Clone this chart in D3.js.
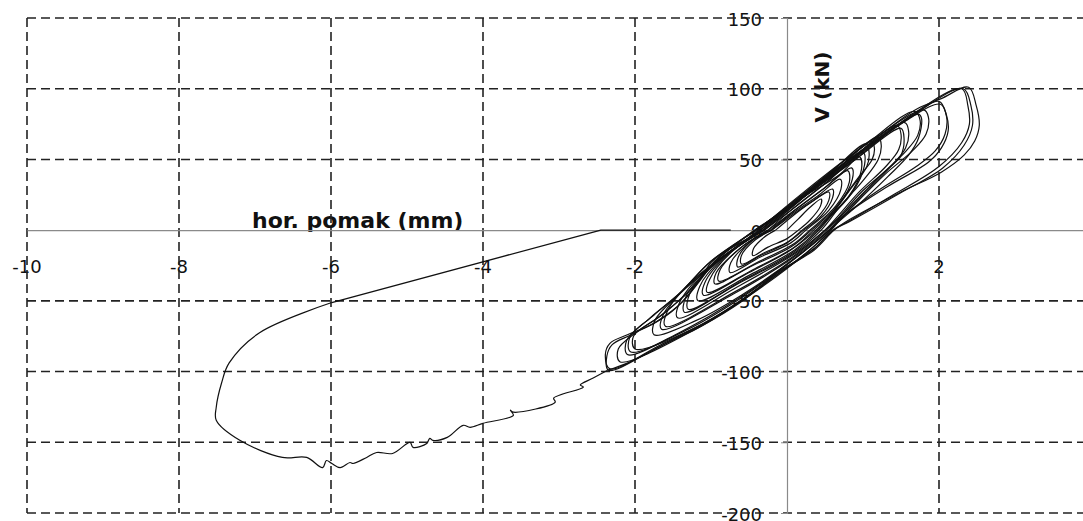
<!DOCTYPE html>
<html>
<head>
<meta charset="utf-8">
<script src="https://cdn.jsdelivr.net/npm/d3@7/dist/d3.min.js"></script>
<style>
  html, body { margin: 0; padding: 0; background: #fff; }
  svg { display: block; }
</style>
</head>
<body>
<svg id="chart" width="1083" height="521"></svg>
<script>
// ---- tick labels ----
const xTicks = [-10, -8, -6, -4, -2, 2, 4];
const xGrid = [-10, -8, -6, -4, -2, 2, 4];
const yTicks = [150, 100, 50, 0, -50, -100, -150, -200];
const yGrid = [150, 100, 50, -50, -100, -150, -200];
const xTitle = "hor. pomak (mm)";
const yTitle = "V (kN)";

// ---- cyclic loops: [displacement mm, force kN] ----
const cycle01 = [[0,0],[0.15,8],[0.3,16],[0.45,22],[0.44,17],[0.3,7],[0.15,0],[0,-6],[-0.25,-12],[-0.45,-18],[-0.44,-13],[-0.3,-5],[-0.15,0]];
const cycle02 = [[-0.15,0],[0.05,9],[0.3,19],[0.55,27],[0.55,21],[0.4,9],[0.2,0],[0.02,-8],[-0.3,-16],[-0.6,-24],[-0.6,-18],[-0.42,-7],[-0.2,0]];
const cycle02b = [[-0.2,0],[0.1,12],[0.35,21],[0.6,29],[0.6,23],[0.45,10],[0.22,0],[0,-9],[-0.35,-18],[-0.65,-26],[-0.64,-19],[-0.45,-7],[-0.2,0]];
const cycle03 = [[-0.2,0],[0.05,11],[0.4,24],[0.7,36],[0.71,29],[0.55,14],[0.25,0],[0.05,-9],[-0.35,-19],[-0.75,-30],[-0.74,-23],[-0.5,-9],[-0.22,0]];
const cycle04 = [[-0.22,0],[0.05,12],[0.45,28],[0.8,42],[0.82,34],[0.64,17],[0.3,0],[0.08,-10],[-0.4,-23],[-0.9,-36],[-0.88,-28],[-0.6,-12],[-0.25,0]];
const cycle04b = [[-0.25,0],[0.1,14],[0.5,30],[0.85,44],[0.86,36],[0.68,18],[0.32,0],[0.05,-12],[-0.45,-25],[-0.95,-38],[-0.93,-30],[-0.62,-13],[-0.26,0]];
const cycle05 = [[-0.25,0],[0.05,14],[0.5,33],[0.95,52],[0.98,43],[0.8,23],[0.35,0],[0.1,-12],[-0.45,-28],[-1.05,-44],[-1.02,-35],[-0.72,-15],[-0.3,0]];
const cycle05b = [[-0.3,0],[0.1,16],[0.55,35],[1.0,55],[1.02,46],[0.85,26],[0.38,0],[0.05,-14],[-0.5,-30],[-1.1,-46],[-1.08,-37],[-0.75,-16],[-0.3,0]];
const cycle06 = [[-0.3,0],[0.1,18],[0.6,40],[1.11,63],[1.15,58],[1.12,50],[0.95,38],[0.7,20],[0.4,0],[0.1,-14],[-0.5,-32],[-1.17,-50],[-1.15,-40],[-0.85,-20],[-0.3,0]];
const cycle07 = [[-0.3,0],[0.15,20],[0.6,42],[1.04,61],[1.08,55],[1.05,45],[0.85,30],[0.42,0],[0.1,-15],[-0.6,-36],[-1.3,-56],[-1.28,-45],[-0.95,-24],[-0.32,0]];
const cycle07b = [[-0.32,0],[0.15,21],[0.7,45],[1.2,66],[1.24,60],[1.2,50],[1.0,35],[0.7,17],[0.45,0],[0.1,-16],[-0.65,-38],[-1.35,-58],[-1.33,-47],[-1.0,-26],[-0.33,0]];
const cycle08 = [[-0.32,0],[0.2,23],[0.9,50],[1.5,72],[1.54,65],[1.5,53],[1.33,43],[1.07,29],[0.71,10],[0.5,0],[0.15,-15],[-0.65,-40],[-1.44,-62],[-1.42,-52],[-1.1,-30],[-0.35,0]];
const cycle09 = [[-0.35,0],[0.2,24],[0.9,53],[1.45,74],[1.5,68],[1.47,57],[1.3,45],[0.95,27],[0.5,0],[0.1,-18],[-0.7,-44],[-1.6,-68],[-1.58,-58],[-1.25,-36],[-0.35,0]];
const cycle09b = [[-0.35,0],[0.2,24],[0.95,55],[1.55,76],[1.6,70],[1.56,58],[1.38,46],[1.0,28],[0.52,0],[0.12,-18],[-0.7,-45],[-1.65,-70],[-1.63,-60],[-1.28,-38],[-0.36,0]];
const cycle10 = [[-0.35,0],[0.2,25],[1.0,57],[1.73,82],[1.77,79],[1.73,65],[1.6,53],[1.33,38],[0.98,20],[0.55,0],[0.15,-18],[-0.6,-46],[-1.2,-64],[-1.75,-74],[-1.74,-64],[-1.35,-42],[-0.38,0]];
const cycle11 = [[-0.38,0],[0.2,26],[1.02,60],[1.68,84],[1.75,78],[1.72,67],[1.55,55],[1.2,37],[0.8,15],[0.55,0],[0.2,-16],[-0.55,-46],[-1.3,-70],[-2.06,-86],[-2.07,-76],[-1.75,-60],[-1.4,-44],[-1.0,-22],[-0.4,0]];
const cycle11b = [[-0.4,0],[0.2,25],[1.0,59],[1.8,85],[1.86,80],[1.83,68],[1.65,56],[1.3,40],[0.85,16],[0.56,0],[0.2,-16],[-0.6,-47],[-1.4,-72],[-2.1,-88],[-2.11,-78],[-1.8,-62],[-1.42,-45],[-1.0,-22],[-0.41,0]];
const cycle12 = [[-0.4,0],[0.18,22],[0.8,48],[1.5,75],[2.0,91],[2.1,81],[2.12,70],[2.03,58],[1.86,48],[1.33,31],[0.75,10],[0.58,0],[0.3,-14],[-0.3,-38],[-1.1,-66],[-2.0,-84],[-2.02,-75],[-1.7,-62],[-1.3,-44],[-0.95,-22],[-0.42,0]];
const cycle12b = [[-0.42,0],[0.18,22],[0.85,50],[1.55,77],[2.02,89],[2.1,80],[2.08,68],[1.95,56],[1.7,45],[1.2,28],[0.7,8],[0.57,0],[0.3,-14],[-0.3,-39],[-1.2,-70],[-2.2,-93],[-2.22,-84],[-2.0,-73],[-1.6,-58],[-1.2,-38],[-0.9,-20],[-0.43,0]];
const cycle13 = [[-0.42,0],[0.18,22],[0.9,50],[1.6,80],[2.3,100],[2.38,88],[2.4,75],[2.3,62],[2.0,45],[1.4,25],[0.8,6],[0.6,0],[0.36,-13],[-0.12,-30],[-0.61,-50],[-1.13,-67],[-1.66,-81],[-2.33,-98],[-2.39,-88],[-2.33,-80],[-2.1,-74],[-1.75,-66],[-1.44,-54],[-1.17,-37],[-1.0,-23],[-0.78,-14],[-0.44,-4],[-0.35,0]];
const cycle13b = [[-0.43,0],[0.18,22],[0.9,51],[1.65,81],[2.32,100],[2.42,88],[2.44,74],[2.33,60],[2.05,44],[1.45,25],[0.82,6],[0.61,0],[0.36,-13],[-0.12,-31],[-0.6,-50],[-1.15,-68],[-1.7,-83],[-2.35,-99],[-2.37,-89],[-2.3,-81],[-2.05,-74],[-1.7,-64],[-1.4,-52],[-1.15,-36],[-0.95,-22],[-0.75,-13],[-0.42,-3],[-0.36,0]];
const cycle14 = [[-0.35,0],[0.2,23],[0.71,40],[1.02,58],[1.44,76],[1.72,86],[2.03,93],[2.39,101],[2.49,88],[2.53,74],[2.47,63],[2.33,53],[2.03,41],[1.5,27],[0.84,8],[0.62,0],[0.36,-14],[-0.12,-30],[-0.61,-51],[-1.13,-68],[-1.66,-82],[-2.1,-94],[-2.36,-99]];

// ---- final monotonic push ----
const finalPush = [[-2.36,-99],[-2.55,-104.6],[-2.72,-109.5],[-2.68,-111],[-3.07,-118.8],[-3.05,-121.6],[-3.6,-128.7],[-3.64,-127.3],[-3.6,-130.9],[-4.0,-136.6],[-4.17,-139.4],[-4.26,-138],[-4.47,-146.5],[-4.66,-148.6],[-4.7,-147.2],[-4.74,-150.8],[-4.92,-153.6],[-4.96,-150.1],[-5.19,-157.9],[-5.4,-157.2],[-5.53,-160.7],[-5.71,-165],[-5.75,-164.3],[-5.88,-167.9],[-5.99,-165],[-6.06,-162.9],[-6.11,-167.9],[-6.32,-160.7],[-6.64,-160.7],[-7.2,-148.6],[-7.51,-134.4],[-7.51,-125.2],[-7.44,-108.1],[-7.34,-93.9],[-6.94,-72.5],[-5.99,-51.2]];
const slipBranch = [[-5.99,-51.2],[-2.45,0],[-0.74,0]];

const cycles = [cycle01,cycle02,cycle02b,cycle03,cycle04,cycle04b,cycle05,cycle05b,cycle06,cycle07,cycle07b,cycle08,cycle09,cycle09b,cycle10,cycle11,cycle11b,cycle12,cycle12b,cycle13,cycle13b,cycle14];

// ---- drawing ----
const svg = d3.select("#chart");
const x = d3.scaleLinear().domain([-10, 4]).range([27, 1091]);
const y = d3.scaleLinear().domain([-200, 150]).range([513, 18]);

const tickFont = "'DejaVu Sans', sans-serif";

// text first (grid crosses over it in the reference)
const gText = svg.append("g");
gText.selectAll("text.xt").data(xTicks).join("text")
  .attr("class", "xt")
  .attr("x", d => x(d)).attr("y", 266)
  .attr("text-anchor", "middle").attr("dominant-baseline", "central")
  .attr("font-family", tickFont).attr("font-size", 18).attr("fill", "#111")
  .text(d => d);
gText.selectAll("text.yt").data(yTicks).join("text")
  .attr("class", "yt")
  .attr("x", 762).attr("y", d => y(d) + 1)
  .attr("text-anchor", "end").attr("dominant-baseline", "central")
  .attr("font-family", tickFont).attr("font-size", 18).attr("fill", "#111")
  .text(d => d);
gText.append("text")
  .attr("x", 252).attr("y", 228)
  .attr("font-family", tickFont).attr("font-weight", "bold").attr("font-size", 22).attr("fill", "#111")
  .text(xTitle);
gText.append("text")
  .attr("transform", `translate(829, 87) rotate(-90)`)
  .attr("text-anchor", "middle")
  .attr("font-family", tickFont).attr("font-weight", "bold").attr("font-size", 20).attr("fill", "#111")
  .text(yTitle);

// dashed grid
const gGrid = svg.append("g").attr("stroke", "#222").attr("stroke-width", 1.6).attr("stroke-dasharray", "9,5");
gGrid.selectAll("line.v").data(xGrid).join("line")
  .attr("x1", d => x(d)).attr("x2", d => x(d)).attr("y1", y(150)).attr("y2", y(-200));
gGrid.selectAll("line.h").data(yGrid).join("line")
  .attr("x1", x(-10)).attr("x2", x(4)).attr("y1", d => y(d)).attr("y2", d => y(d));

// axes (gray) via d3 axes
const axisColor = "#8a8a8a";
const xAxis = d3.axisBottom(x).tickValues(xGrid).tickSize(0).tickFormat("");
const gx = svg.append("g").attr("transform", `translate(0, ${y(0)})`).call(xAxis);
gx.select(".domain").attr("stroke", axisColor).attr("stroke-width", 1.2);
const yAxis = d3.axisLeft(y).tickValues(yGrid).tickSize(6).tickFormat("");
const gy = svg.append("g").attr("transform", `translate(${x(0)}, 0)`).call(yAxis);
gy.select(".domain").attr("stroke", axisColor).attr("stroke-width", 1.2);
gy.selectAll(".tick line").attr("stroke", axisColor);

// data
const smooth = d3.line().x(d => x(d[0])).y(d => y(d[1])).curve(d3.curveCatmullRom.alpha(0.5));
const straight = d3.line().x(d => x(d[0])).y(d => y(d[1]));
const gData = svg.append("g").attr("fill", "none").attr("stroke", "#111").attr("stroke-width", 1.2).attr("stroke-linejoin", "round");
gData.selectAll("path.cyc").data(cycles).join("path").attr("class", "cyc").attr("d", smooth);
gData.append("path").attr("d", smooth(finalPush));
gData.append("path").attr("d", straight(slipBranch)).attr("stroke-width", 1.4);
</script>
</body>
</html>
